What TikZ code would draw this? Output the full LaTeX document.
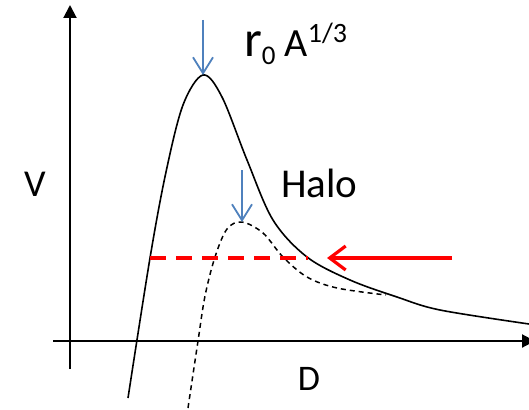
\documentclass[tikz,border=0pt]{standalone}
\usepackage{fontspec}
\setmainfont{Carlito}
\usepackage{tikz}
\usetikzlibrary{arrows.meta}
\definecolor{AzulFlecha}{RGB}{79,129,189}
\definecolor{RojoEnergia}{RGB}{255,0,0}

\begin{document}
\begin{tikzpicture}[x=1pt,y=-1pt,>=Latex]
  \useasboundingbox (0,0) rectangle (529,409);
  % ejes
  \coordinate (Vbajo) at (70,369);
  \coordinate (Valto) at (70,5);
  \coordinate (Dizq) at (53,341);
  \coordinate (Dder) at (535,341);
  \draw[line width=2pt,-{Triangle[length=13pt,width=13pt]}] (Vbajo)--(Valto);
  \draw[line width=2pt,-{Triangle[length=13pt,width=13pt]}] (Dizq)--(Dder);
  \node (V) at (35,184) {\fontsize{38}{38}\selectfont V};
  \node (D) at (309,379) {\fontsize{36}{36}\selectfont D};
  % potencial del nucleo
  \coordinate (pico) at (203,75);
  \draw[line width=1.6pt] plot[smooth,tension=0.55] coordinates {(128,398) (150,258)
    (166,172) (183,105) (pico) (222,97) (247,160) (273,220) (307,257) (350,280) (397,297) (440,310) (529,324)};
  % potencial del halo
  \coordinate (picohalo) at (242,222);
  \draw[line width=1.5pt,dash pattern=on 5pt off 4pt] plot[smooth,tension=0.55] coordinates {(188,408) (198,341)
    (205,296) (215,257) (227,229) (picohalo) (263,233) (283,257) (307,277) (337,288) (386,295)};
  % flechas azules
  \coordinate (flechaA) at (203,20);
  \coordinate (flechaB) at (242,170);
  \draw[line width=1.8pt,AzulFlecha,-{Straight Barb[length=16pt,width=20pt]}] (flechaA)--(pico);
  \draw[line width=1.8pt,AzulFlecha,-{Straight Barb[length=16pt,width=20pt]}] (flechaB)--(picohalo);
  \node[anchor=base west,inner sep=0pt] (radio) at (244,57) {\fontsize{51}{51}\selectfont r\raisebox{-8pt}{\fontsize{27}{27}\selectfont 0}\fontsize{40}{40}\selectfont\ A\raisebox{14pt}{\fontsize{28}{28}\selectfont 1/3}};
  \node[anchor=base west,inner sep=0pt] (halo) at (281,197) {\fontsize{41}{41}\selectfont Halo};
  % energia incidente
  \coordinate (Einicio) at (452,258);
  \coordinate (Efin) at (327,258);
  \coordinate (Eizq) at (150,258);
  \coordinate (Eder) at (308,258);
  \draw[line width=3.2pt,RojoEnergia,dash pattern=on 16pt off 10pt] (Eizq)--(Eder);
  \draw[line width=3.2pt,RojoEnergia,-{Straight Barb[length=16pt,width=24pt]}] (Einicio)--(Efin);
\end{tikzpicture}
\end{document}
